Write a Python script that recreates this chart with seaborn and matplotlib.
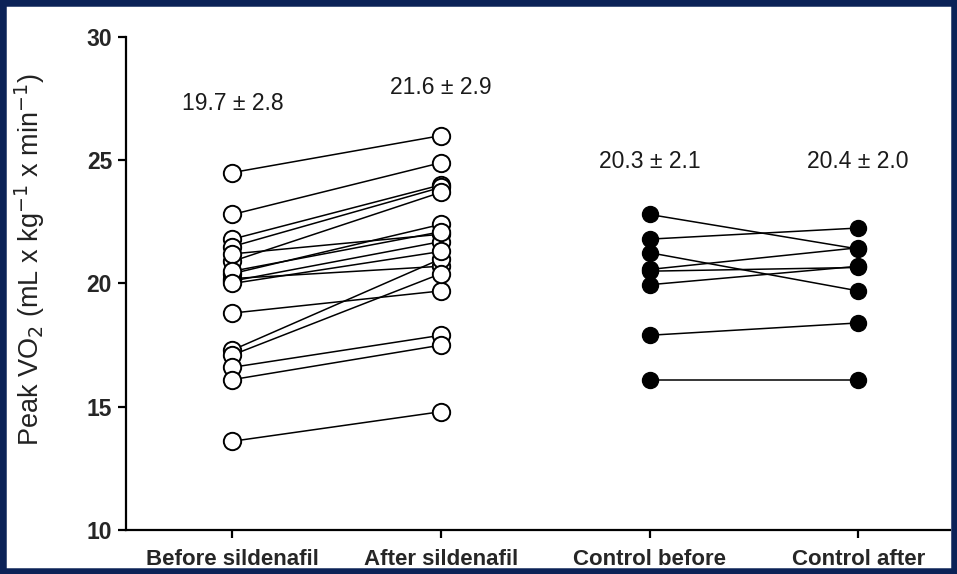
import matplotlib
matplotlib.use("Agg")
import matplotlib.pyplot as plt
import seaborn as sns
import pandas as pd
from matplotlib.patches import Rectangle

categories = ["Before sildenafil", "After sildenafil", "Control before", "Control after"]

sild_before = [24.5, 22.8, 21.8, 21.5, 20.9, 21.2, 20.4, 20.1, 20.5, 20.0, 20.2, 18.8, 17.3, 17.1, 16.6, 16.1, 13.6]
sild_after = [26.0, 24.9, 24.0, 23.9, 23.7, 22.0, 22.4, 21.7, 22.1, 21.3, 20.7, 19.7, 21.0, 20.4, 17.9, 17.5, 14.8]

ctrl_before = [22.8, 21.8, 21.25, 20.57, 20.5, 19.95, 17.9, 16.1]
ctrl_after = [21.4, 22.25, 19.7, 21.45, 20.65, 20.7, 18.4, 16.1]

annotations = ["19.7 \u00b1 2.8", "21.6 \u00b1 2.9", "20.3 \u00b1 2.1", "20.4 \u00b1 2.0"]
annot_y = [27.3, 27.95, 24.95, 24.95]

yticks = [10, 15, 20, 25, 30]

rows = []
for i, (b, a) in enumerate(zip(sild_before, sild_after)):
    rows.append(("s%d" % i, categories[0], b, "sild"))
    rows.append(("s%d" % i, categories[1], a, "sild"))
for i, (b, a) in enumerate(zip(ctrl_before, ctrl_after)):
    rows.append(("c%d" % i, categories[2], b, "ctrl"))
    rows.append(("c%d" % i, categories[3], a, "ctrl"))
df = pd.DataFrame(rows, columns=["subject", "condition", "value", "group"])
df["pos"] = df["condition"].map({c: i for i, c in enumerate(categories)})

sns.set_theme(style="ticks")
plt.rcParams["font.family"] = ["Liberation Sans", "DejaVu Sans"]

fig = plt.figure(figsize=(9.57, 5.74), dpi=100)
ax = fig.add_axes([126 / 957, 1 - 530 / 574, (950 - 126) / 957, 493 / 574])

sns.lineplot(data=df[df.group == "sild"], x="pos", y="value", units="subject",
             estimator=None, color="black", lw=1.1, marker="o", ms=12.5,
             mfc="white", mec="black", mew=1.4, ax=ax, legend=False)
sns.lineplot(data=df[df.group == "ctrl"], x="pos", y="value", units="subject",
             estimator=None, color="black", lw=1.1, marker="o", ms=11.5,
             mfc="black", mec="black", mew=1.0, ax=ax, legend=False)

for i, (t, y) in enumerate(zip(annotations, annot_y)):
    ax.text(i, y, t, ha="center", va="center", fontsize=16.5, color="#1a1a1a")

ax.set_xlim(-0.51, 3.44)
ax.set_ylim(10, 30)
ax.set_yticks(yticks)
ax.set_yticklabels([str(v) for v in yticks], fontsize=16.5, fontweight="bold")
ax.set_xticks(range(len(categories)))
ax.set_xticklabels(categories, fontsize=16, fontweight="bold")
ax.set_xlabel("")
ax.set_ylabel("Peak VO$_2$ (mL x kg$^{-1}$ x min$^{-1}$)", fontsize=19.5, color="#222222")
ax.yaxis.set_label_coords(-0.096, 0.548)
sns.despine(ax=ax)
for s in ["left", "bottom"]:
    ax.spines[s].set_linewidth(1.6)
    ax.spines[s].set_color("black")
ax.tick_params(axis="both", direction="out", length=6, width=1.6, color="black", pad=4)
ax.tick_params(axis="x", pad=8)

fig.patches.append(Rectangle((0, 0), 1, 1, transform=fig.transFigure, fill=False,
                             edgecolor="#0b2257", linewidth=9, zorder=10))

fig.savefig("out.png", dpi=100, facecolor="white")
